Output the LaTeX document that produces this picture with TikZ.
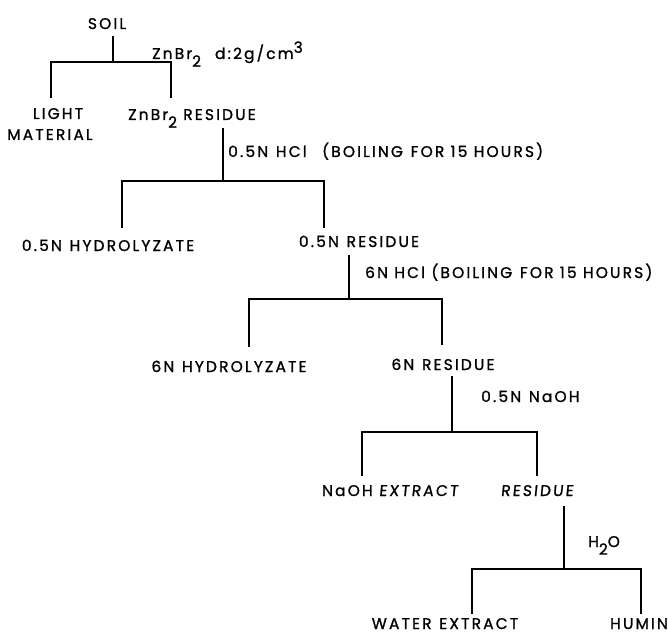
\documentclass[tikz,border=0pt]{standalone}
\usepackage{fontspec}
\setmainfont{Poppins}[LetterSpace=14, FakeBold=1.2]
\newfontfamily\slfont{Poppins}[LetterSpace=14, FakeBold=1.2, FakeSlant=0.1]
\usetikzlibrary{positioning}
\newcommand{\subx}[1]{\raisebox{-0.5em}{#1}}
\newcommand{\supx}[1]{\raisebox{0.4em}{#1}}
\tikzset{
  every node/.style = {font=\fontsize{15.5}{24}\selectfont, inner sep=0pt, text depth=0pt},
  frac/.style    = {anchor=base},
  reagent/.style = {anchor=base west},
  tree/.style    = {line width=1.8bp, line cap=rect, line join=miter},
}

\begin{document}
\begin{tikzpicture}[x=1bp, y=-1bp]
\useasboundingbox (0,0) rectangle (668,636);

% fractions and reagents
\node[frac] (soil) at (107,29) {SOIL};
\node[reagent] (znbr) at (152,59) {ZnBr\subx{2}\hspace{14bp}d:2g/cm\supx{3}};
\node[frac] (light) at (58,119) {LIGHT};
\node[frac] (mat) at (50,140) {MATERIAL};
\node[reagent] (znres) at (128,120) {ZnBr\subx{2} RESIDUE};
\node[reagent] (hcla) at (228,157) {0.5N\enspace HCl\quad (BOILING\enspace FOR 15 HOURS)};
\node[frac] (hyda) at (108,251) {0.5N\enspace HYDROLYZATE};
\node[frac] (resa) at (359,247) {0.5N\enspace RESIDUE};
\node[reagent] (hclb) at (365,278) {6N HCl (BOILING\enspace FOR 15 HOURS)};
\node[frac] (hydb) at (229,372) {6N\enspace HYDROLYZATE};
\node[frac] (resb) at (443,370) {6N\enspace RESIDUE};
\node[reagent] (naoh) at (481,402) {0.5N\enspace NaOH};
\node[frac] (ext) at (390,496) {NaOH {\slfont EXTRACT}};
\node[frac] (resc) at (537,496) {{\slfont RESIDUE}};
\node[reagent] (water) at (588,547) {H\subx{2}O};
\node[frac] (wext) at (445,629) {WATER\enspace EXTRACT};
\node[frac] (humin) at (639,629) {HUMIN};

% splits
\coordinate (j1) at (113,62);
\coordinate (j1a) at (51,97);
\coordinate (j1b) at (171,97);
\draw[tree, shorten <=8bp] (j1 |- soil.south) -- (j1);
\draw[tree] (j1a) |- (j1) -| (j1b);

\coordinate (j2) at (223,181);
\coordinate (j2a) at (122,227);
\coordinate (j2b) at (324,227);
\draw[tree, shorten <=9bp] (j2 |- znres.base) -- (j2);
\draw[tree] (j2a) |- (j2) -| (j2b);

\coordinate (j3) at (349,299);
\coordinate (j3a) at (249,346);
\coordinate (j3b) at (442,344);
\draw[tree, shorten <=9bp] (j3 |- resa.base) -- (j3);
\draw[tree] (j3a) |- (j3) -| (j3b);

\coordinate (j4) at (452,432);
\coordinate (j4a) at (362,475);
\coordinate (j4b) at (537,475);
\draw[tree, shorten <=7bp] (j4 |- resb.base) -- (j4);
\draw[tree] (j4a) |- (j4) -| (j4b);

\coordinate (j5) at (564,569);
\coordinate (j5a) at (472,613);
\coordinate (j5b) at (641,613);
\draw[tree, shorten <=11bp] (j5 |- resc.base) -- (j5);
\draw[tree] (j5a) |- (j5) -| (j5b);
\end{tikzpicture}
\end{document}
